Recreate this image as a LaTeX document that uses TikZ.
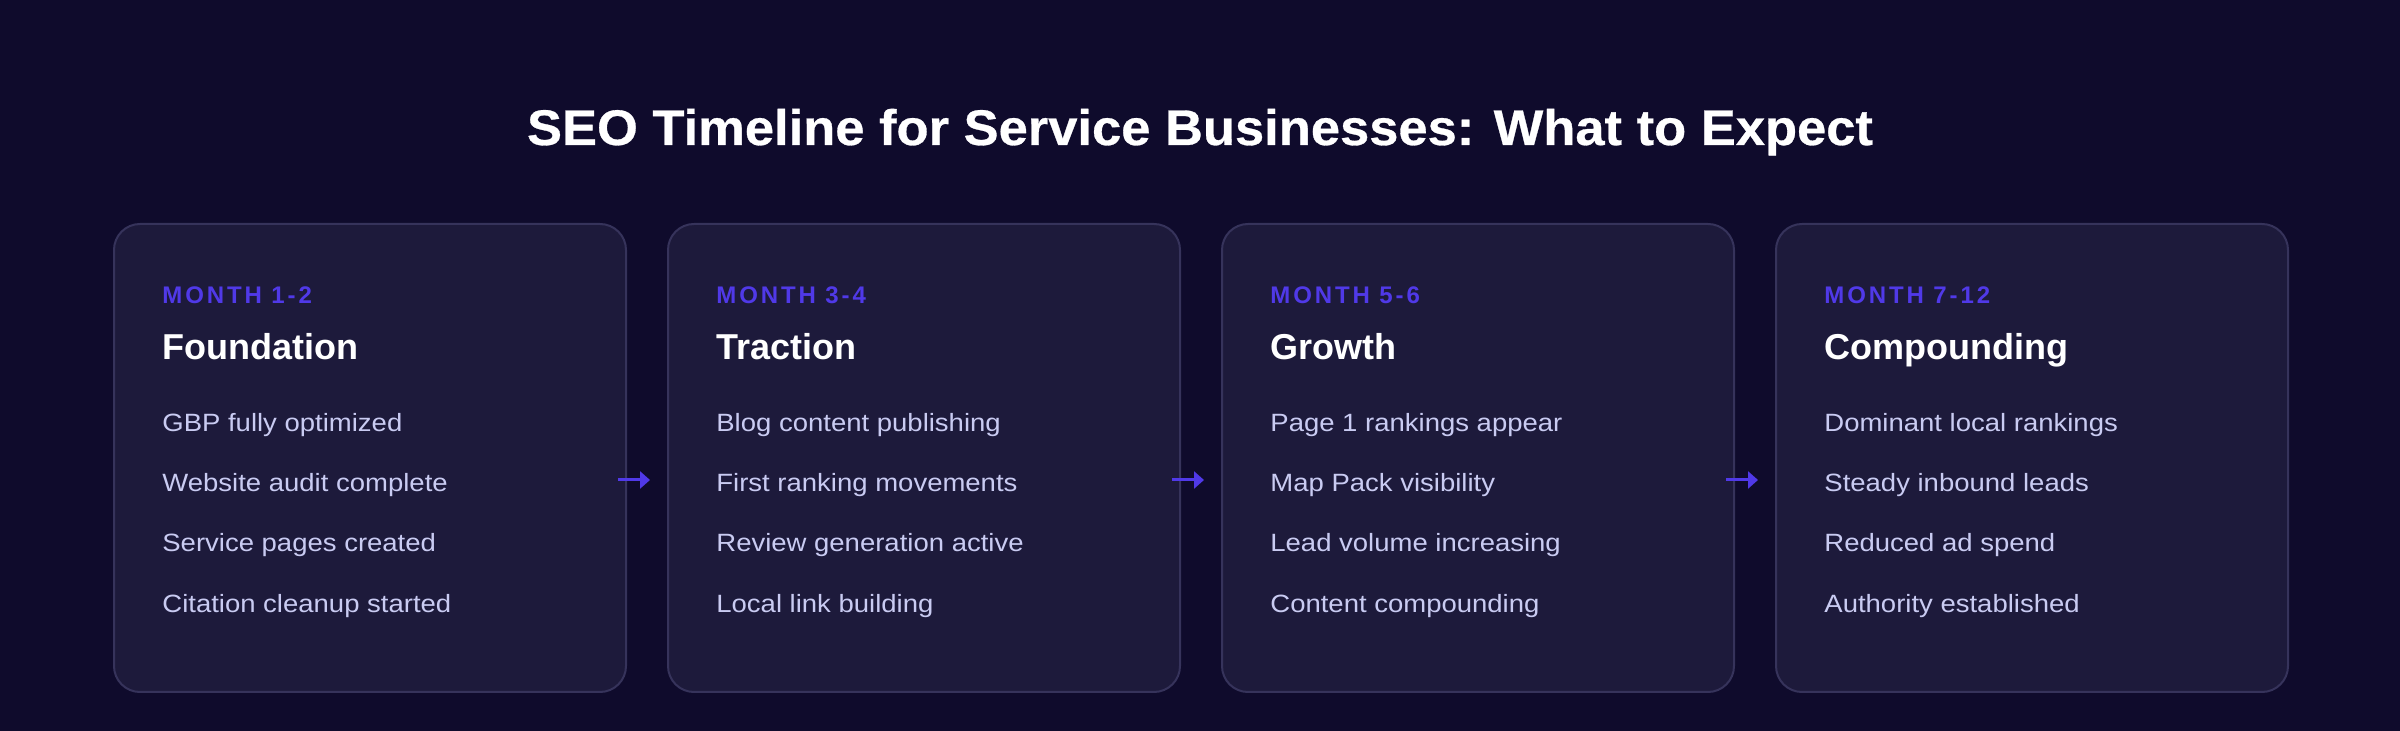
\documentclass[tikz,border=0pt]{standalone}
\usepackage{fontspec}
\setmainfont{Liberation Sans}
\newfontfamily\monthfont[LetterSpace=12]{Liberation Sans}
\newfontfamily\itemfont[FakeStretch=1.1]{Liberation Sans}
\newfontfamily\titlefont[FakeStretch=1.05,FakeBold=0.6]{Liberation Sans}
\usetikzlibrary{positioning,arrows.meta}
\definecolor{bgnavy}{HTML}{0F0B2C}
\definecolor{cardfill}{HTML}{1D1A3B}
\definecolor{cardline}{HTML}{36335B}
\definecolor{monthblue}{HTML}{5039E8}
\definecolor{itemlav}{HTML}{C9CBF2}
\tikzset{
  card/.style={draw=cardline,line width=1pt,fill=cardfill,rounded corners=13pt,
    minimum width=256pt,minimum height=234pt,anchor=north west,inner sep=0pt},
  monthtxt/.style={anchor=base west,inner sep=0pt,text=monthblue,font=\monthfont\bfseries\fontsize{12}{14}\selectfont},
  headtxt/.style={anchor=base west,inner sep=0pt,text=white,font=\bfseries\fontsize{18}{22}\selectfont},
  itemtxt/.style={anchor=base west,inner sep=0pt,text=itemlav,font=\itemfont\fontsize{12.5}{15}\selectfont},
  flow/.style={draw=monthblue,line width=1.5pt,-{Triangle[length=5pt,width=8.5pt]}}
}
\begin{document}
\begin{tikzpicture}[x=0.5pt,y=-0.5pt]
	\fill[bgnavy] (0,0) rectangle (2400,731);
	\node[anchor=base,text=white,font=\titlefont\bfseries\fontsize{25}{30}\selectfont] (title) at (1200,145)
		{SEO Timeline for Service Businesses: What to Expect};
	% the four phase cards
	\foreach \i/\x/\mon/\head/\ia/\ib/\ic/\id in {
		1/113/{MONTH 1-2}/Foundation/GBP fully optimized/Website audit complete/Service pages created/Citation cleanup started,
		2/667/{MONTH 3-4}/Traction/Blog content publishing/First ranking movements/Review generation active/Local link building,
		3/1221/{MONTH 5-6}/Growth/Page 1 rankings appear/Map Pack visibility/Lead volume increasing/Content compounding,
		4/1775/{MONTH 7-12}/Compounding/Dominant local rankings/Steady inbound leads/Reduced ad spend/Authority established}
	{
		\node[card] (c\i) at (\x,223) {};
		\node[monthtxt] (m\i) at ([shift={(49,81)}]c\i.north west) {\mon};
		\node[headtxt] (h\i) at ([shift={(49,137)}]c\i.north west) {\head};
		\node[itemtxt] (p\i) at ([shift={(49,209)}]c\i.north west) {\ia};
		\node[itemtxt] (q\i) at ([shift={(49,269)}]c\i.north west) {\ib};
		\node[itemtxt] (r\i) at ([shift={(49,329)}]c\i.north west) {\ic};
		\node[itemtxt] (s\i) at ([shift={(49,390)}]c\i.north west) {\id};
	}
	% arrows between the cards
	\foreach \i in {1,2,3}{
		\coordinate (a\i) at ([shift={(-9,22)}]c\i.east);
		\coordinate (b\i) at ([shift={(23,22)}]c\i.east);
		\draw[flow] (a\i) -- (b\i);
	}
\end{tikzpicture}
\end{document}
